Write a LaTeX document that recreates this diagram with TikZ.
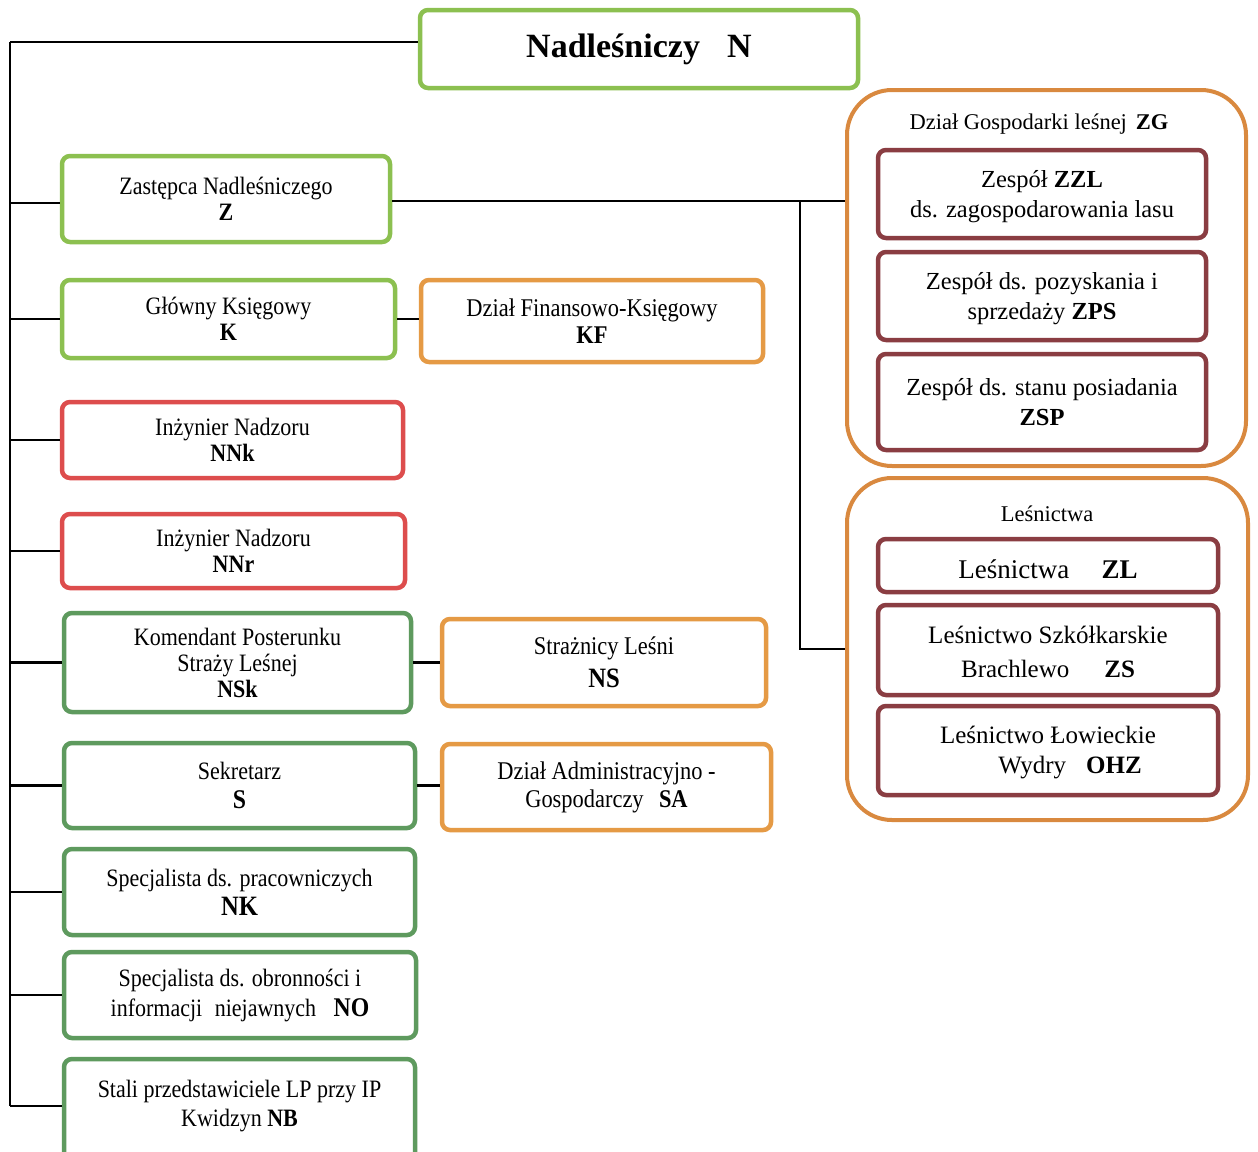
\documentclass[tikz,border=0pt]{standalone}
\usepackage{fontspec}
\setmainfont{Liberation Serif}
\newfontfamily\cond[FakeStretch=0.88]{Liberation Serif}
\definecolor{lgreen}{HTML}{8CC050}
\definecolor{dgreen}{HTML}{5E9A5E}
\definecolor{redb}{HTML}{DD4D4D}
\definecolor{orangeb}{HTML}{E59A45}
\definecolor{grouporange}{HTML}{D9893F}
\definecolor{maroon}{HTML}{8A3D42}
\tikzset{
  box/.style={draw, line width=4.5pt, rounded corners=8pt, fill=white, align=center, inner sep=0pt},
  lefttext/.style={font=\cond\fontsize{25}{26}\selectfont},
  righttext/.style={font=\fontsize{24.5}{30}\selectfont},
  groupbox/.style={draw=grouporange, line width=4pt, rounded corners=45pt, fill=white, inner sep=0pt},
  conn/.style={line width=2.2pt, black},
}
\begin{document}
\begin{tikzpicture}[x=1pt,y=-1pt]
\clip (0,0) rectangle (1258,1151);
\fill[white] (0,0) rectangle (1258,1151);

% top node
\node[box, draw=lgreen, minimum width=438pt, minimum height=78pt, font=\fontsize{34}{36}\selectfont\bfseries] (N) at (639,49) {Nadleśniczy\hspace{0.8em}N};

% left column
\node[box, lefttext, draw=lgreen, minimum width=328pt, minimum height=86pt] (Z) at (226,199) {Zastępca Nadleśniczego\\\textbf{Z}};
\node[box, lefttext, draw=lgreen, minimum width=333pt, minimum height=78pt] (K) at (228.5,319) {Główny Księgowy\\\textbf{K}};
\node[box, lefttext, draw=redb, minimum width=341pt, minimum height=76pt] (NNk) at (232.5,440) {Inżynier Nadzoru\\\textbf{NNk}};
\node[box, lefttext, draw=redb, minimum width=343pt, minimum height=74pt] (NNr) at (233.5,551) {Inżynier Nadzoru\\\textbf{NNr}};
\node[box, lefttext, draw=dgreen, minimum width=347pt, minimum height=99pt] (NSk) at (237.5,662.5) {Komendant Posterunku\\Straży Leśnej\\\textbf{NSk}};
\node[box, lefttext, draw=dgreen, minimum width=351pt, minimum height=85pt, font=\cond\fontsize{25}{29}\selectfont] (S) at (239.5,785.5) {Sekretarz\\{\fontsize{27}{29}\selectfont\textbf{S}}};
\node[box, lefttext, draw=dgreen, minimum width=351pt, minimum height=86pt, font=\cond\fontsize{25}{29}\selectfont] (NK) at (239.5,892) {Specjalista ds. pracowniczych\\{\fontsize{28}{29}\selectfont\textbf{NK}}};
\node[box, lefttext, draw=dgreen, minimum width=352pt, minimum height=86pt, font=\cond\fontsize{25}{30}\selectfont] (NO) at (240,995) {Specjalista ds. obronności i\\informacji\hspace{0.5em}niejawnych\hspace{0.7em}{\fontsize{27}{30}\selectfont\textbf{NO}}};
\node[box, draw=dgreen, minimum width=351pt, minimum height=104pt] (NB) at (239.5,1111) {};
\node[lefttext, align=center, font=\cond\fontsize{25}{29}\selectfont] (NBt) at (239.5,1106) {Stali przedstawiciele LP przy IP\\Kwidzyn \textbf{NB}};

% middle column
\node[box, lefttext, draw=orangeb, minimum width=342pt, minimum height=82pt, font=\cond\fontsize{25.5}{27}\selectfont] (KF) at (592,321) {Dział Finansowo-Księgowy\\\textbf{KF}};
\node[box, lefttext, draw=orangeb, minimum width=324pt, minimum height=87pt, font=\cond\fontsize{25.5}{33}\selectfont] (NS) at (604,662.5) {Strażnicy Leśni\\{\fontsize{28}{33}\selectfont\textbf{NS}}};
\node[box, lefttext, draw=orangeb, minimum width=329pt, minimum height=86pt, font=\cond\fontsize{25.5}{28}\selectfont] (SA) at (606.5,787) {Dział Administracyjno -\\Gospodarczy\hspace{0.6em}\textbf{SA}};

% right groups
\node[groupbox, minimum width=399pt, minimum height=376pt] (ZG) at (1046.5,278) {};
\node[font=\fontsize{22.5}{24}\selectfont] (ZGt) at (1039,124) {Dział Gospodarki leśnej\hspace{0.4em}\textbf{ZG}};
\node[box, righttext, draw=maroon, minimum width=328pt, minimum height=88pt] (ZZL) at (1042,194) {};
\node[righttext, align=center] (ZZLt) at (1042,197) {Zespół \textbf{ZZL}\\ds. zagospodarowania lasu};
\node[box, righttext, draw=maroon, minimum width=328pt, minimum height=88pt] (ZPS) at (1042,296) {};
\node[righttext, align=center] (ZPSt) at (1042,299) {Zespół ds. pozyskania i\\sprzedaży \textbf{ZPS}};
\node[box, righttext, draw=maroon, minimum width=328pt, minimum height=96pt] (ZSP) at (1042,402) {};
\node[righttext, align=center] (ZSPt) at (1042,402) {Zespół ds. stanu posiadania\\\textbf{ZSP}};

\node[groupbox, minimum width=401pt, minimum height=342pt] (LES) at (1047.5,649) {};
\node[font=\fontsize{22.5}{24}\selectfont] (LESt) at (1047,514) {Leśnictwa};
\node[box, draw=maroon, minimum width=340pt, minimum height=53pt, font=\fontsize{27}{30}\selectfont] (ZL) at (1048,565.5) {};
\node[font=\fontsize{27}{30}\selectfont] (ZLt) at (1048,569) {Leśnictwa\hspace{1.2em}\textbf{ZL}};
\node[box, draw=maroon, minimum width=340pt, minimum height=90pt] (ZS) at (1048,650) {};
\node[align=center, font=\fontsize{25}{34}\selectfont] (ZSt) at (1048,652) {Leśnictwo Szkółkarskie\\Brachlewo\hspace{1.4em}\textbf{ZS}};
\node[box, draw=maroon, minimum width=340pt, minimum height=89pt] (OHZ) at (1048,750.5) {};
\node[align=center, font=\fontsize{25}{30}\selectfont] (OHZt) at (1048,752) {Leśnictwo Łowieckie\\\hspace*{44pt}Wydry\hspace{0.8em}\textbf{OHZ}};

% connectors
\coordinate (t0) at (10,42);
\coordinate (tb) at (10,1106);
\draw[conn] (t0) -- (t0 -| N.west);
\draw[conn] (t0) -- (tb);
\foreach \n in {K,NNk,NNr,NSk,S,NK,NO} {
  \draw[conn] (\n.west) -- (\n.west -| t0);
}
\coordinate (zb) at (10,203);
\draw[conn] (zb) -- (zb -| Z.west);
\draw[conn] (tb) -- (tb -| NB.west);
\draw[conn] (K.east) -- (K.east -| KF.west);
\draw[conn] (NSk.east) -- (NSk.east -| NS.west);
\draw[conn] (S.east) -- (S.east -| SA.west);
\coordinate (j) at (800,201);
\draw[conn] (Z.east |- j) -- (j -| ZG.west);
\draw[conn] (j) |- (LES.west);
\end{tikzpicture}
\end{document}
